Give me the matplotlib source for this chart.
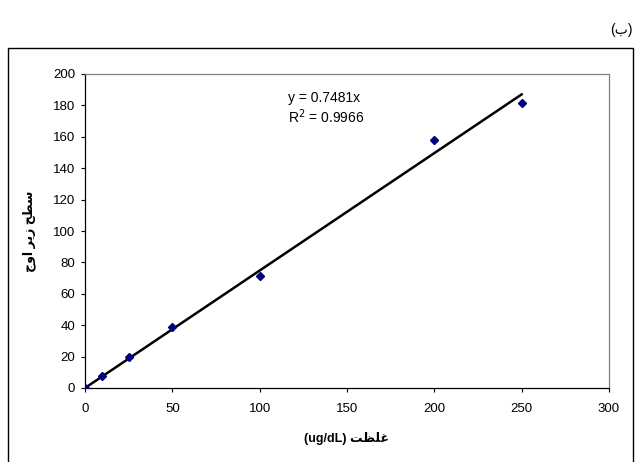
import matplotlib
matplotlib.use('Agg')
import numpy as np
import matplotlib.pyplot as plt
from matplotlib.patches import Rectangle

# concentration (ug/dL) vs peak area
conc = [0, 10, 25, 50, 100, 200, 250]
area = [0, 7.5, 19.5, 39, 71.5, 158, 181.5]
slope = 0.7481
r2 = 0.9966
x_ticks = [0, 50, 100, 150, 200, 250, 300]
y_ticks = [0, 20, 40, 60, 80, 100, 120, 140, 160, 180, 200]

# Persian labels, pre-shaped (presentation forms, visual order) since matplotlib has no bidi/shaping
x_label = "(ug/dL) " + "\uFE96\uFEC8\uFEE0\uFECF"          # غلظت (ug/dL)
y_label = "\uFE9D\uFEED\uFE8D \uFEAE\uFBFE\uFEAF \uFEA2\uFEC4\uFEB3"  # سطح زیر اوج
panel = "(\uFE8F)"                                         # (ب)

fonts = ['Liberation Sans', 'DejaVu Sans']
plt.rcParams['font.family'] = fonts
plt.rcParams['font.size'] = 9.5

fig = plt.figure(figsize=(6.37, 4.62), dpi=100)
ax = fig.add_axes([85 / 637, 1 - 388 / 462, 524 / 637, 314 / 462])

# outer chart frame (bottom runs off the image)
fig.patches.append(Rectangle((8 / 637, -0.1), 625 / 637, 1.1 - 48 / 462,
                             transform=fig.transFigure, fill=False,
                             edgecolor='black', linewidth=1.0))

ax.plot(conc, area, linestyle='none', marker='D', markersize=4.5,
        color='#000080', zorder=3)
fit_x = np.array([conc[0], conc[-1]])
ax.plot(fit_x, slope * fit_x, color='black', linewidth=1.8, zorder=2)

ax.set_xlim(0, 300)
ax.set_ylim(0, 200)
ax.set_xticks(x_ticks)
ax.set_yticks(y_ticks)
ax.tick_params(direction='out', length=3, width=0.8, labelsize=9.5)
ax.tick_params(axis='x', pad=8)
ax.tick_params(axis='y', pad=4)

for side in ['top', 'right']:
    ax.spines[side].set_color('#808080')
    ax.spines[side].set_linewidth(0.9)
for side in ['left', 'bottom']:
    ax.spines[side].set_color('black')
    ax.spines[side].set_linewidth(0.9)

ax.text(0.387, 0.91, "y = %.4fx" % slope, transform=ax.transAxes, fontsize=10)
ax.text(0.387, 0.845, "R$^2$ = %.4f" % r2, transform=ax.transAxes, fontsize=10)

ax.set_xlabel(x_label, fontweight='bold', fontsize=9, labelpad=12)
ax.set_ylabel(y_label, fontweight='bold', fontsize=9, labelpad=12)

fig.text(633 / 637, 1 - 30 / 462, panel, ha='right', va='center', fontsize=10)

fig.savefig('out.png', dpi=100)
